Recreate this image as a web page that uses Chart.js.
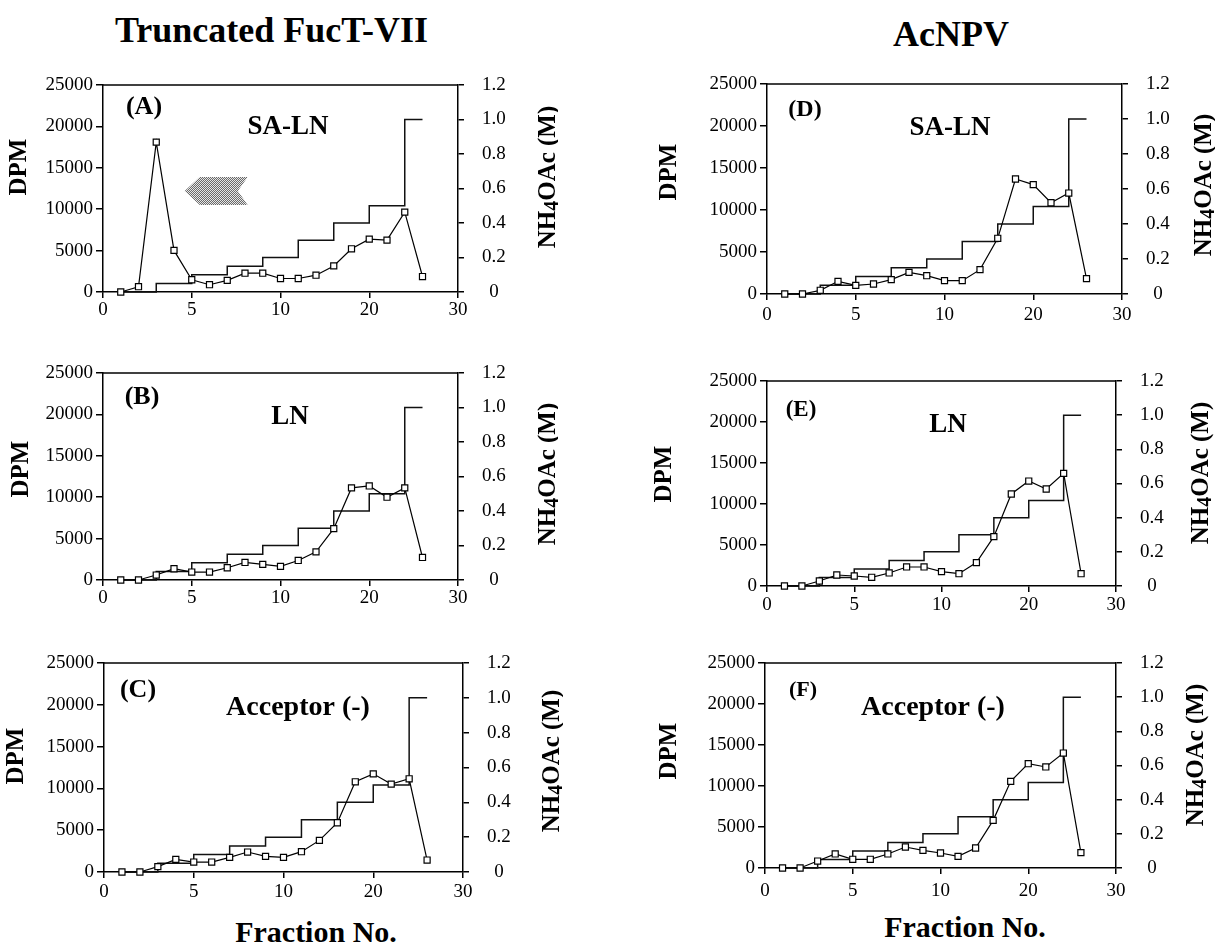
<!DOCTYPE html>
<html>
<head>
<meta charset="utf-8">
<script src="https://cdn.jsdelivr.net/npm/chart.js@4.4.0/dist/chart.umd.min.js"></script>
<style>
  html, body { margin: 0; padding: 0; background: #fff; overflow: hidden; }
  #page { position: relative; width: 1215px; height: 946px; overflow: hidden; }
  #page canvas { position: absolute; }
  .head {
    position: absolute;
    font-family: "Liberation Serif", "Times New Roman", serif;
    font-weight: bold;
    white-space: nowrap;
    color: #000;
  }
</style>
</head>
<body>
<div id="page">
  <div class="head" style="left:115px; top:12px; font-size:36px; line-height:36px;">Truncated FucT-VII</div>
  <div class="head" style="left:893px; top:16px; font-size:36px; line-height:36px;">AcNPV</div>
  <div class="head" style="left:166px; top:917px; width:300px; text-align:center; font-size:30px; line-height:30px;">Fraction No.</div>
  <div class="head" style="left:815px; top:912px; width:300px; text-align:center; font-size:30px; line-height:30px;">Fraction No.</div>
</div>

<script>
  // x axis slots as in the original (evenly spaced categories)
  var slotLabels = [0, 1, 2, 3, 4, 5, 6, 7, 8, 9, 10, 12, 14, 16, 18, 20, 22, 24, 26, 28, 30];
  var fractions = [1, 2, 3, 4, 5, 6, 7, 8, 9, 10, 12, 14, 16, 18, 20, 22, 24, 26];

  // DPM per fraction
  var dpmA = [0, 640, 18100, 5020, 1480, 880, 1400, 2270, 2270, 1630, 1630, 2030, 3150, 5220, 6380, 6260, 9650, 1870];
  var dpmB = [0, 0, 600, 1360, 960, 960, 1480, 2120, 1880, 1640, 2360, 3400, 6200, 11120, 11360, 10000, 11120, 2720];
  var dpmC = [0, 0, 640, 1510, 1190, 1190, 1750, 2390, 1870, 1750, 2430, 3780, 5890, 10790, 11740, 10510, 11150, 1430];
  var dpmD = [0, 0, 440, 1510, 1030, 1190, 1710, 2580, 2180, 1590, 1590, 2900, 6630, 13690, 13020, 10870, 12020, 1830];
  var dpmE = [0, 0, 610, 1340, 1220, 1060, 1590, 2320, 2320, 1750, 1500, 2850, 6020, 11220, 12800, 11830, 13740, 1500];
  var dpmF = [0, 0, 850, 1710, 1060, 1060, 1710, 2560, 2150, 1830, 1420, 2440, 5810, 10570, 12720, 12320, 14020, 1870];

  // NH4OAc step gradient: fraction where each step starts, and concentration (M)
  var gradFraction = [1, 3, 5, 7, 9, 12, 16, 20, 24, 26];
  var gradConc = [0, 0.05, 0.1, 0.15, 0.2, 0.3, 0.4, 0.5, 1.0, 1.0];

  // shaded arrow in panel A (slot, DPM)
  var arrowSlot = [4.6, 5.45, 8.15, 7.6, 8.15, 5.45];
  var arrowDpm = [12200, 13900, 13900, 12200, 10500, 10500];

  function slotOf(f) { return slotLabels.indexOf(f); }

  var serif = '"Liberation Serif", "Times New Roman", serif';

  // page layout of each panel: plot box [left, top, right, bottom] and text spots
  var panels = [
    { canvas: 'cA', dpm: dpmA, plot: [103, 85, 458, 292], xPad: 1, letter: '(A)', letterAt: [144, 107], letterSize: 26,
      label: 'SA-LN', labelAt: [288, 127], labelSize: 27, dpmAt: [20, 167], nhAt: [547, 177], arrow: true },
    { canvas: 'cB', dpm: dpmB, plot: [103, 373, 458, 580], xPad: 1, letter: '(B)', letterAt: [142, 397], letterSize: 26,
      label: 'LN', labelAt: [290, 417], labelSize: 27, dpmAt: [22, 469], nhAt: [547, 474] },
    { canvas: 'cC', dpm: dpmC, plot: [104, 663, 463, 872], xPad: 3, letter: '(C)', letterAt: [138, 690], letterSize: 26,
      label: 'Acceptor (-)', labelAt: [298, 708], labelSize: 28, dpmAt: [17, 756], nhAt: [551, 761] },
    { canvas: 'cD', dpm: dpmD, plot: [767, 84, 1122, 294], xPad: 4, letter: '(D)', letterAt: [805, 110], letterSize: 24,
      label: 'SA-LN', labelAt: [950, 128], labelSize: 27, dpmAt: [670, 172], nhAt: [1203, 185] },
    { canvas: 'cE', dpm: dpmE, plot: [767, 381, 1116, 586], xPad: 2, letter: '(E)', letterAt: [801, 410], letterSize: 23,
      label: 'LN', labelAt: [948, 425], labelSize: 27, dpmAt: [665, 474], nhAt: [1200, 473] },
    { canvas: 'cF', dpm: dpmF, plot: [765, 663, 1116, 868], xPad: 6, letter: '(F)', letterAt: [803, 690], letterSize: 22,
      label: 'Acceptor (-)', labelAt: [933, 708], labelSize: 28, dpmAt: [670, 751], nhAt: [1195, 755] }
  ];

  var LEFT_W = 125, RIGHT_W = 100, TOP_PAD = 30, BOTTOM_H = 40;

  var panelDecor = {
    id: 'panelDecor',
    afterDraw: function(chart, args, o) {
      var ctx = chart.ctx, a = chart.chartArea;
      ctx.save();
      // top frame
      ctx.strokeStyle = '#000';
      ctx.lineWidth = 1.5;
      ctx.beginPath();
      ctx.moveTo(a.left, a.top);
      ctx.lineTo(a.right, a.top);
      ctx.stroke();

      ctx.fillStyle = '#000';
      ctx.textAlign = 'center';
      ctx.textBaseline = 'middle';

      // panel letter and substrate label
      ctx.font = 'bold ' + o.p.letterSize + 'px ' + serif;
      ctx.fillText(o.p.letter, o.p.letterAt[0] - o.ox, o.p.letterAt[1] - o.oy);
      ctx.font = 'bold ' + o.p.labelSize + 'px ' + serif;
      ctx.fillText(o.p.label, o.p.labelAt[0] - o.ox, o.p.labelAt[1] - o.oy);

      // DPM axis title
      ctx.save();
      ctx.translate(o.p.dpmAt[0] - o.ox, o.p.dpmAt[1] - o.oy);
      ctx.rotate(-Math.PI / 2);
      ctx.font = 'bold 25px ' + serif;
      ctx.fillText('DPM', 0, 0);
      ctx.restore();

      // NH4OAc (M) axis title with subscript
      ctx.save();
      ctx.translate(o.p.nhAt[0] - o.ox, o.p.nhAt[1] - o.oy);
      ctx.rotate(-Math.PI / 2);
      ctx.textAlign = 'left';
      ctx.textBaseline = 'alphabetic';
      var big = 'bold 25px ' + serif, small = 'bold 20px ' + serif;
      ctx.font = big;
      var w1 = ctx.measureText('NH').width, w3 = ctx.measureText('OAc (M)').width;
      ctx.font = small;
      var w2 = ctx.measureText('4').width;
      var x = -(w1 + w2 + w3) / 2, base = 8;
      ctx.font = big; ctx.fillText('NH', x, base); x += w1;
      ctx.font = small; ctx.fillText('4', x, base + 3); x += w2;
      ctx.font = big; ctx.fillText('OAc (M)', x, base);
      ctx.restore();

      // stippled arrow
      if (o.p.arrow) {
        var pc = document.createElement('canvas');
        pc.width = 2; pc.height = 2;
        var pctx = pc.getContext('2d');
        pctx.fillStyle = '#e6e6e6'; pctx.fillRect(0, 0, 2, 2);
        pctx.fillStyle = '#6a6a6a'; pctx.fillRect(0, 0, 1, 1); pctx.fillRect(1, 1, 1, 1);
        var xs = chart.scales.x, ys = chart.scales.y;
        ctx.fillStyle = ctx.createPattern(pc, 'repeat');
        ctx.beginPath();
        for (var i = 0; i < arrowSlot.length; i++) {
          var px = xs.getPixelForValue(arrowSlot[i]), py = ys.getPixelForValue(arrowDpm[i]);
          if (i === 0) ctx.moveTo(px, py); else ctx.lineTo(px, py);
        }
        ctx.closePath();
        ctx.fill();
      }
      ctx.restore();
    }
  };

  var tickFont = { family: serif, size: 19 };
  var page = document.getElementById('page');

  panels.forEach(function(p) {
    var ox = p.plot[0] - LEFT_W, oy = p.plot[1] - TOP_PAD;
    var w = p.plot[2] - p.plot[0] + LEFT_W + RIGHT_W;
    var h = p.plot[3] - p.plot[1] + TOP_PAD + BOTTOM_H;
    var cv = document.createElement('canvas');
    cv.id = p.canvas;
    cv.width = w; cv.height = h;
    cv.style.left = ox + 'px'; cv.style.top = oy + 'px';
    cv.style.width = w + 'px'; cv.style.height = h + 'px';
    page.appendChild(cv);

    var dpmPoints = fractions.map(function(f, i) { return { x: slotOf(f), y: p.dpm[i] }; });
    var gradPoints = gradFraction.map(function(f, i) { return { x: slotOf(f), y: gradConc[i] }; });

    new Chart(cv, {
      type: 'line',
      data: {
        datasets: [
          {
            label: 'DPM',
            data: dpmPoints,
            yAxisID: 'y',
            borderColor: '#000',
            borderWidth: 1.2,
            pointStyle: 'rect',
            pointRadius: 4.3,
            pointBackgroundColor: '#fff',
            pointBorderColor: '#000',
            pointBorderWidth: 1.2,
            tension: 0,
            clip: false
          },
          {
            label: 'NH4OAc',
            data: gradPoints,
            yAxisID: 'y1',
            stepped: 'before',
            borderColor: '#111',
            borderWidth: 1.5,
            pointRadius: 0,
            clip: false
          }
        ]
      },
      options: {
        responsive: false,
        animation: false,
        devicePixelRatio: 1,
        layout: { padding: { top: TOP_PAD, left: 0, right: 0, bottom: 0 } },
        plugins: {
          legend: { display: false },
          tooltip: { enabled: false },
          panelDecor: { p: p, ox: ox, oy: oy }
        },
        scales: {
          x: {
            type: 'linear', position: 'bottom', min: 0, max: 20,
            ticks: { stepSize: 5, autoSkip: false, maxRotation: 0, padding: p.xPad, color: '#000', font: tickFont,
                     callback: function(v) { return String(slotLabels[v]); } },
            grid: { display: true, drawOnChartArea: false, drawTicks: true, tickLength: 6, color: '#000', lineWidth: 1.5 },
            border: { display: true, color: '#000', width: 1.5 },
            afterFit: function(s) { s.height = BOTTOM_H; }
          },
          y: {
            position: 'left', min: 0, max: 25000,
            ticks: { stepSize: 5000, padding: 3, color: '#000', font: tickFont,
                     callback: function(v) { return String(v); } },
            grid: { display: true, drawOnChartArea: false, drawTicks: true, tickLength: 7, color: '#000', lineWidth: 1.5 },
            border: { display: true, color: '#000', width: 1.5 },
            afterFit: function(s) { s.width = LEFT_W; }
          },
          y1: {
            position: 'right', min: 0, max: 1.2,
            ticks: { stepSize: 0.2, padding: 18, crossAlign: 'center', color: '#000', font: tickFont,
                     callback: function(v) { return v === 0 ? '0' : v.toFixed(1); } },
            grid: { display: true, drawOnChartArea: false, drawTicks: true, tickLength: 6, color: '#000', lineWidth: 1.5 },
            border: { display: true, color: '#000', width: 1.5 },
            afterFit: function(s) { s.width = RIGHT_W; }
          }
        }
      },
      plugins: [panelDecor]
    });
  });
</script>
</body>
</html>
